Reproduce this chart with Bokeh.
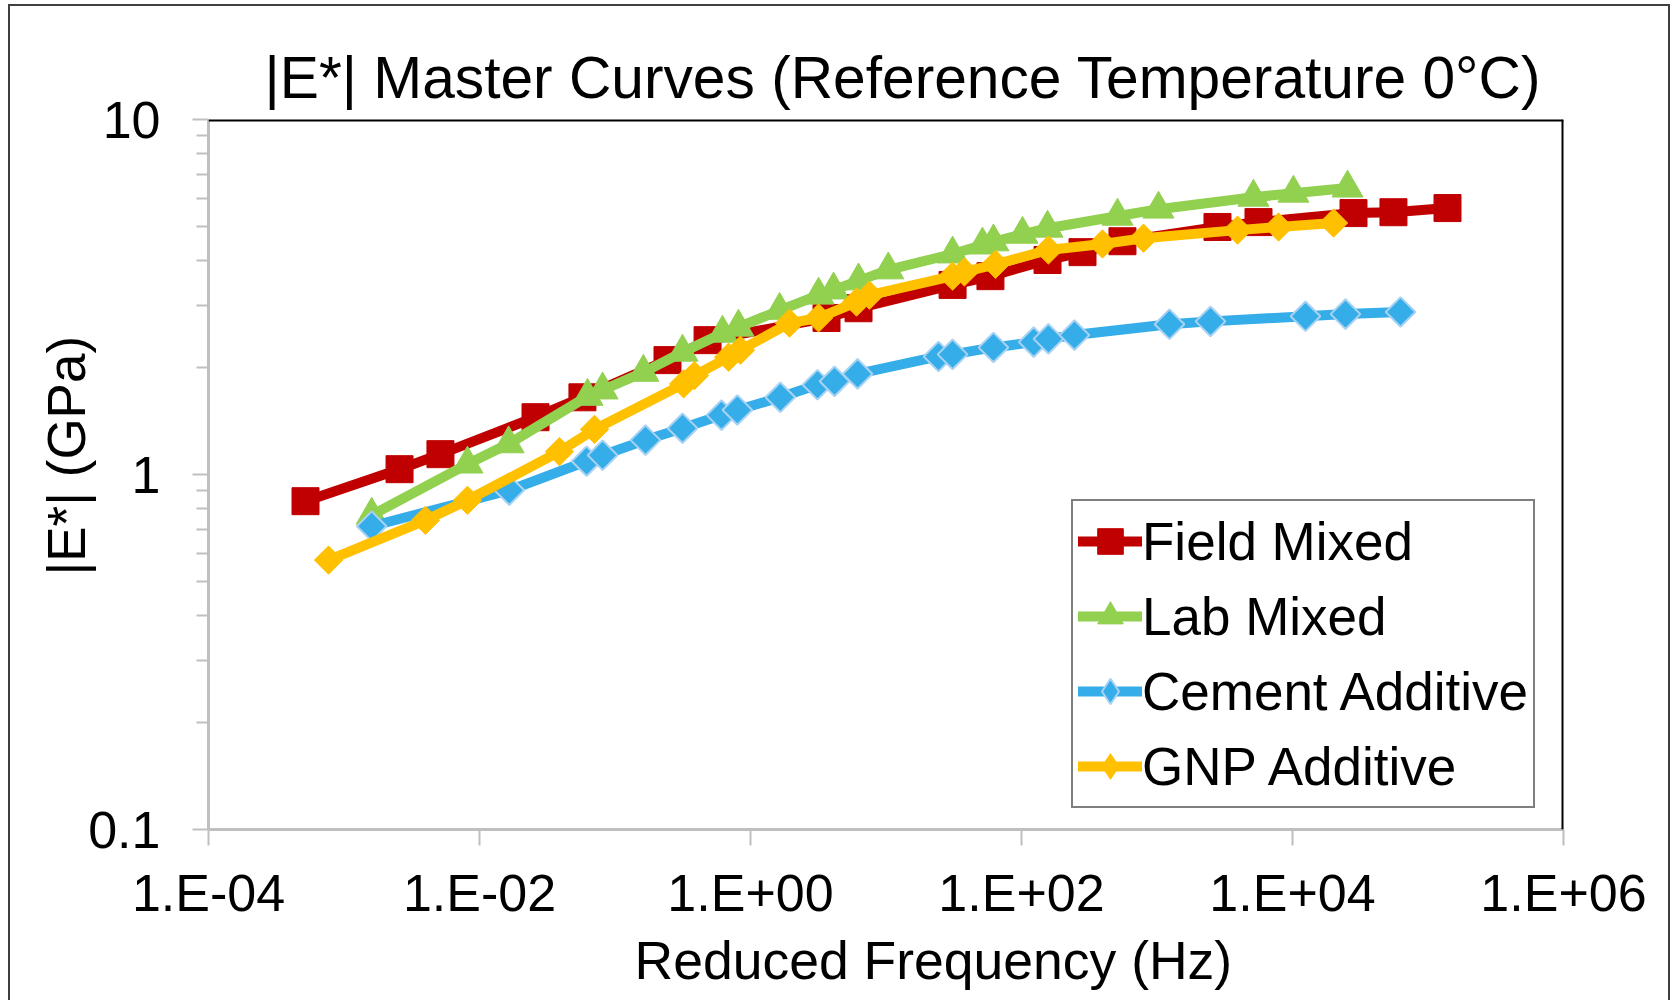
import math
from bokeh.plotting import figure
from bokeh.models import FixedTicker, Legend, LegendItem, Span, Title
from bokeh.embed import file_html
from bokeh.resources import INLINE

# ---------------- data ----------------
field_freq = [5.20e-4, 2.57e-3, 5.15e-3, 0.0259, 0.0575, 0.244, 0.482, 3.64, 6.27,
              31.0, 59.0, 155.6, 282, 556, 2795, 5610, 28200, 55600, 139300]
field_mod = [0.841, 1.035, 1.141, 1.45, 1.65, 2.10, 2.39, 2.76, 2.94,
             3.42, 3.62, 4.02, 4.23, 4.54, 4.98, 5.14, 5.45, 5.48, 5.63]

lab_freq = [1.60e-3, 8.15e-3, 0.0164, 0.0627, 0.081, 0.162, 0.315, 0.621, 0.815,
            1.64, 3.18, 4.10, 6.27, 10.4, 31.0, 51.5, 62.1, 101.7, 155.6, 511,
            1026, 5150, 10160, 25470]
lab_mod = [0.768, 1.07, 1.22, 1.66, 1.73, 1.94, 2.21, 2.50, 2.60,
           2.90, 3.20, 3.31, 3.51, 3.77, 4.18, 4.43, 4.52, 4.75, 4.94, 5.34,
           5.59, 6.04, 6.20, 6.41]

cement_freq = [1.6e-3, 0.0166, 0.0617, 0.081, 0.168, 0.315, 0.611, 0.80, 1.66,
               3.12, 4.17, 6.17, 24.4, 31.0, 62.1, 123, 158, 246, 1236, 2483,
               12470, 24600, 62700]
cement_mod = [0.715, 0.903, 1.09, 1.133, 1.25, 1.35, 1.47, 1.52, 1.65,
              1.79, 1.83, 1.92, 2.15, 2.18, 2.28, 2.36, 2.41, 2.47, 2.65, 2.70,
              2.79, 2.83, 2.87]

gnp_freq = [7.69e-4, 3.99e-3, 8.15e-3, 0.0389, 0.0706, 0.321, 0.386, 0.689, 0.843,
            1.94, 3.18, 6.06, 7.55, 31.0, 37.9, 64.3, 158, 396, 795, 3930,
            7890, 20090]
gnp_mod = [0.574, 0.743, 0.846, 1.16, 1.34, 1.80, 1.90, 2.14, 2.24,
           2.67, 2.76, 3.06, 3.20, 3.62, 3.72, 3.91, 4.29, 4.46, 4.63, 4.88,
           4.98, 5.11]

x_ticks = [1e-4, 1e-2, 1e0, 1e2, 1e4, 1e6]
x_tick_labels = ["1.E-04", "1.E-02", "1.E+00", "1.E+02", "1.E+04", "1.E+06"]
y_ticks = [0.1, 1, 10]
y_tick_labels = ["0.1", "1", "10"]
y_minor = [0.2, 0.3, 0.4, 0.5, 0.6, 0.7, 0.8, 0.9, 2, 3, 4, 5, 6, 7, 8, 9]

FONT = "Liberation Sans"

p = figure(x_axis_type="log", y_axis_type="log",
           x_range=(1e-4, 1e6), y_range=(0.1, 10),
           frame_width=1355, frame_height=710,
           min_border_left=198, min_border_right=105,
           min_border_top=113, min_border_bottom=171,
           output_backend="svg", toolbar_location=None,
           background_fill_color="white", border_fill_color="white",
           styles={"margin-left": "8px", "margin-top": "4px",
                   "border-left": "2px solid #404040", "border-top": "2px solid #404040",
                   "border-right": "2px solid #404040"})

p.title = Title(text="|E*| Master Curves (Reference Temperature 0\u00b0C)",
                text_font=FONT, text_font_size="58.7px", text_font_style="normal",
                text_color="black", align="left", offset=56, standoff=19)

p.add_layout(Title(text="Reduced Frequency (Hz)", text_font=FONT, text_font_size="53.5px",
                   text_font_style="normal", text_color="black",
                   align="left", offset=426, standoff=8), "below")
p.add_layout(Title(text="|E*| (GPa)", text_font=FONT, text_font_size="53px",
                   text_font_style="normal", text_color="black",
                   align="left", offset=254, standoff=-20), "left")

p.grid.visible = False
p.outline_line_color = None

xa = p.xaxis[0]
xa.ticker = FixedTicker(ticks=x_ticks, minor_ticks=[])
xa.major_label_overrides = dict(zip(x_ticks, x_tick_labels))
ya = p.yaxis[0]
ya.ticker = FixedTicker(ticks=y_ticks, minor_ticks=y_minor)
ya.major_label_overrides = dict(zip(y_ticks, y_tick_labels))

for ax in (xa, ya):
    ax.axis_line_color = "#BFBFBF"
    ax.axis_line_width = 3
    ax.major_tick_line_color = "#BFBFBF"
    ax.major_tick_line_width = 2
    ax.minor_tick_line_color = "#BFBFBF"
    ax.minor_tick_line_width = 2
    ax.major_tick_in = 0
    ax.minor_tick_in = 0
    ax.major_tick_out = 16
    ax.minor_tick_out = 12
    ax.major_label_text_font = FONT
    ax.major_label_text_font_size = "52px"
    ax.major_label_text_color = "black"
xa.major_label_standoff = 18
ya.major_label_standoff = 32

# plot-area border (top and right)
p.add_layout(Span(location=10, dimension="width", line_color="black", line_width=4))
p.add_layout(Span(location=1e6, dimension="height", line_color="black", line_width=4))

LW = 10
items = []

# Field Mixed
lr = p.line(field_freq, field_mod, line_color="#C00000", line_width=LW, line_join="round", line_cap="round")
sr = p.scatter(field_freq, field_mod, marker="square", size=27, fill_color="#C00000", line_color="#C00000")
items.append(LegendItem(label="Field Mixed", renderers=[lr, sr]))

# Lab Mixed
lr = p.line(lab_freq, lab_mod, line_color="#92D050", line_width=LW, line_join="round", line_cap="round")
sr = p.scatter(lab_freq, lab_mod, marker="triangle", size=31, fill_color="#92D050", line_color="#92D050")
items.append(LegendItem(label="Lab Mixed", renderers=[lr, sr]))

# Cement Additive
lr = p.line(cement_freq, cement_mod, line_color="#35ADE9", line_width=LW, line_join="round", line_cap="round")
dr = p.scatter(cement_freq, cement_mod, marker="diamond", size=27, fill_color="#35ADE9",
               line_color="#A9D2F3", line_width=2)
p.scatter(cement_freq, cement_mod, marker="square", size=21, angle=math.pi / 4,
          fill_color="#35ADE9", line_color="#A9D2F3", line_width=2)
items.append(LegendItem(label="Cement Additive", renderers=[lr, dr]))

# GNP Additive
lr = p.line(gnp_freq, gnp_mod, line_color="#FFC000", line_width=LW, line_join="round", line_cap="round")
dr = p.scatter(gnp_freq, gnp_mod, marker="diamond", size=26, fill_color="#FFC000", line_color="#FFC000")
p.scatter(gnp_freq, gnp_mod, marker="square", size=20, angle=math.pi / 4,
          fill_color="#FFC000", line_color="#FFC000")
items.append(LegendItem(label="GNP Additive", renderers=[lr, dr]))

legend = Legend(items=items, location=(863, 21),
                label_text_font=FONT, label_text_font_size="53px", label_text_color="black",
                glyph_width=64, glyph_height=70, label_height=70, label_standoff=0, spacing=5,
                padding=5, margin=0,
                border_line_color="black", border_line_width=2,
                background_fill_color="white", background_fill_alpha=1)
p.add_layout(legend, "center")

open("out.html", "w").write(file_html(p, INLINE))
